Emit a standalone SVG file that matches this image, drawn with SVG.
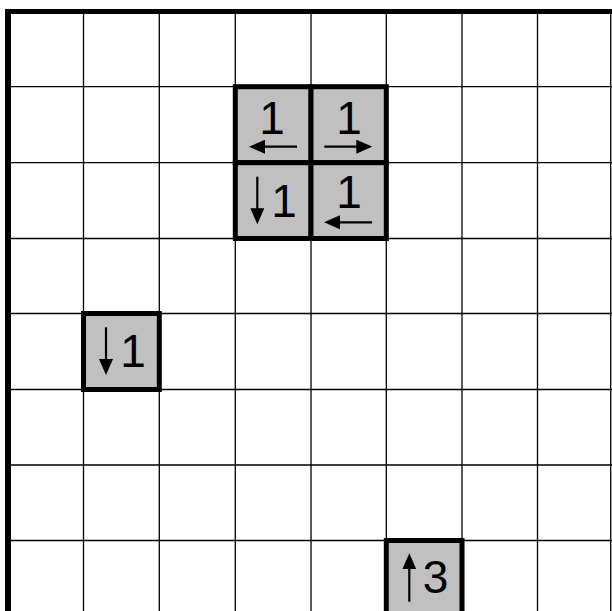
<svg xmlns="http://www.w3.org/2000/svg" width="612" height="611" viewBox="0 0 612 611">
  <defs>
    <marker id="ah" markerUnits="userSpaceOnUse" markerWidth="16" markerHeight="14" viewBox="0 0 16 14" refX="12" refY="7" orient="auto">
      <path d="M0,0 L16,7 L0,14 z" fill="#000"/>
    </marker>
  </defs>
  <style>
    .thin { stroke: #000; stroke-width: 1.3; fill: none; }
    .frame { stroke: #000; fill: none; }
    .cell { fill: #c0c0c0; stroke: #000; stroke-width: 5; }
    .arr { stroke: #000; stroke-width: 2.2; fill: none; marker-end: url(#ah); }
    .num { font-family: "Liberation Sans", Arial, sans-serif; font-size: 46px; fill: #000; text-anchor: middle; }
  </style>
  <rect x="0" y="0" width="612" height="611" fill="#fff"/>
  <g id="grid">
    <path class="thin" d="M83.5,11V611 M159.3,11V611 M235.3,11V611 M311,11V611 M386.3,11V611 M462,11V611 M537.5,11V611 M610.7,11V611"/>
    <path class="thin" d="M8,86.7H612 M8,162.7H612 M8,238.5H612 M8,313.5H612 M8,389.5H612 M8,465H612 M8,540.5H612"/>
    <path class="frame" stroke-width="6" d="M8,9V611"/>
    <path class="frame" stroke-width="5" d="M5,11.5H612"/>
  </g>
  <g id="cell-r1c3">
    <rect class="cell" x="235.3" y="86.7" width="75.7" height="76"/>
    <text class="num" x="272" y="133.5">1</text>
    <path class="arr" d="M297,146.7H253"/>
  </g>
  <g id="cell-r1c4">
    <rect class="cell" x="311" y="86.7" width="75.3" height="76"/>
    <text class="num" x="349" y="133.5">1</text>
    <path class="arr" d="M324.3,146.7H368.3"/>
  </g>
  <g id="cell-r2c3">
    <rect class="cell" x="235.3" y="162.7" width="75.7" height="75.8"/>
    <path class="arr" d="M257.3,176.7V220.3"/>
    <text class="num" x="284" y="216.7">1</text>
  </g>
  <g id="cell-r2c4">
    <rect class="cell" x="311" y="162.7" width="75.3" height="75.8"/>
    <text class="num" x="349" y="208.3">1</text>
    <path class="arr" d="M372,222.3H328"/>
  </g>
  <g id="cell-r4c1">
    <rect class="cell" x="83.5" y="313.5" width="75.8" height="76"/>
    <path class="arr" d="M106,327.3V371"/>
    <text class="num" x="133" y="366.7">1</text>
  </g>
  <g id="cell-r7c5">
    <rect class="cell" x="386.3" y="540.5" width="75.7" height="76"/>
    <path class="arr" d="M409.3,601.7V557.3"/>
    <text class="num" x="435.5" y="593">3</text>
  </g>
</svg>
